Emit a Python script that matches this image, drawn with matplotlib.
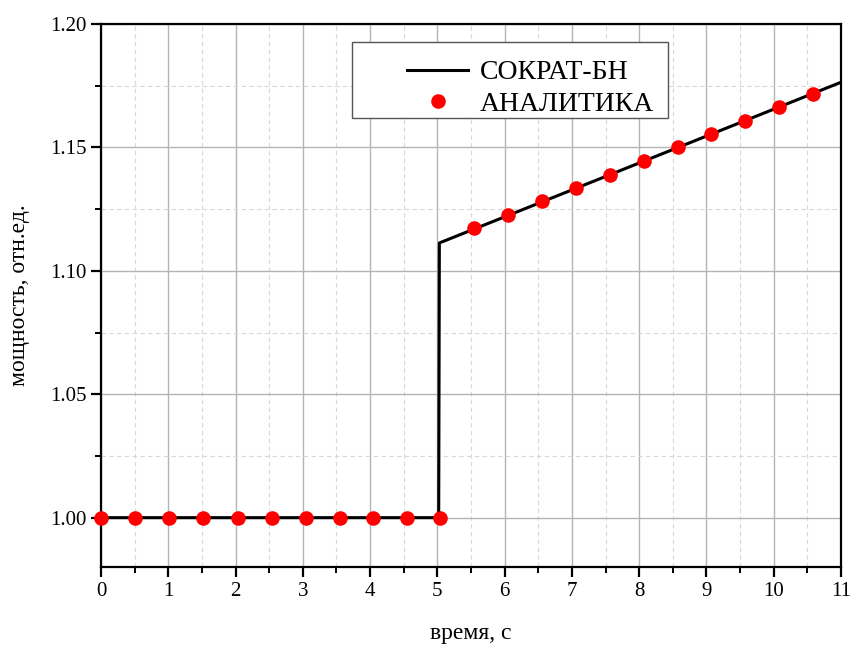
import matplotlib.pyplot as plt
import numpy as np
from matplotlib.patches import Rectangle
from matplotlib.ticker import MultipleLocator

# SOKRAT-BN calculation: flat power, step jump, then linear growth
calc_time = [0.0, 5.02, 5.03, 11.0]
calc_power = [1.0, 1.0, 1.1113, 1.1764]

# analytical solution points
an_time = [0.0, 0.504, 1.008, 1.52, 2.03, 2.54, 3.05, 3.55, 4.05, 4.55, 5.04,
           5.545, 6.05, 6.55, 7.06, 7.56, 8.07, 8.57, 9.07, 9.58, 10.08, 10.58]
an_power = [1.0, 1.0, 1.0, 1.0, 1.0, 1.0, 1.0, 1.0, 1.0, 1.0, 1.0,
            1.1172, 1.1226, 1.1281, 1.1336, 1.1390, 1.1446, 1.1500, 1.1554,
            1.1609, 1.1664, 1.1718]

plt.rcParams['font.family'] = ['Liberation Serif', 'DejaVu Serif']

fig = plt.figure(figsize=(8.5, 6.49), dpi=100)
ax = fig.add_axes([0.1188, 0.1263, 0.8706, 0.8367])

ax.plot(calc_time, calc_power, color='black', lw=2.2, label='СОКРАТ-БН', zorder=3)
ax.plot(an_time, an_power, linestyle='None', marker='o', ms=10.5, color='red',
        markeredgewidth=0, label='АНАЛИТИКА', zorder=4, clip_on=False)

ax.set_xlim(0, 11)
ax.set_ylim(0.98, 1.20)
ax.xaxis.set_major_locator(MultipleLocator(1))
ax.xaxis.set_minor_locator(MultipleLocator(0.5))
ax.yaxis.set_major_locator(MultipleLocator(0.05))
ax.yaxis.set_minor_locator(MultipleLocator(0.025))
ax.yaxis.set_major_formatter(plt.FormatStrFormatter('%.2f'))

ax.grid(which='major', color='#b4b4b4', lw=1.0, ls='-')
ax.grid(which='minor', color='#d8d8d8', lw=0.8, ls=(0, (4, 3)))
ax.set_axisbelow(True)

for s in ax.spines.values():
    s.set_linewidth(1.6)
ax.tick_params(which='major', direction='out', length=7, width=1.6, labelsize=15)
ax.tick_params(which='minor', direction='out', length=4.5, width=1.4)
ax.tick_params(top=False, right=False)

ax.set_xlabel('время, с', fontsize=17, labelpad=16)
ax.set_ylabel('мощность, отн.ед.', fontsize=17, labelpad=14)

# legend box is wider than its entries, so draw the frame separately
ax.add_patch(Rectangle((0.339, 0.827), 0.427, 0.14, transform=ax.transAxes,
                       facecolor='white', edgecolor='#555555', lw=1.0, zorder=5))
leg = ax.legend(loc='upper left', bbox_to_anchor=(0.414, 0.934),
                borderaxespad=0, borderpad=0, frameon=False,
                fontsize=20, handlelength=2.2, handletextpad=0.4,
                labelspacing=0.22)
leg.set_zorder(6)

fig.savefig('out.png', dpi=100)
